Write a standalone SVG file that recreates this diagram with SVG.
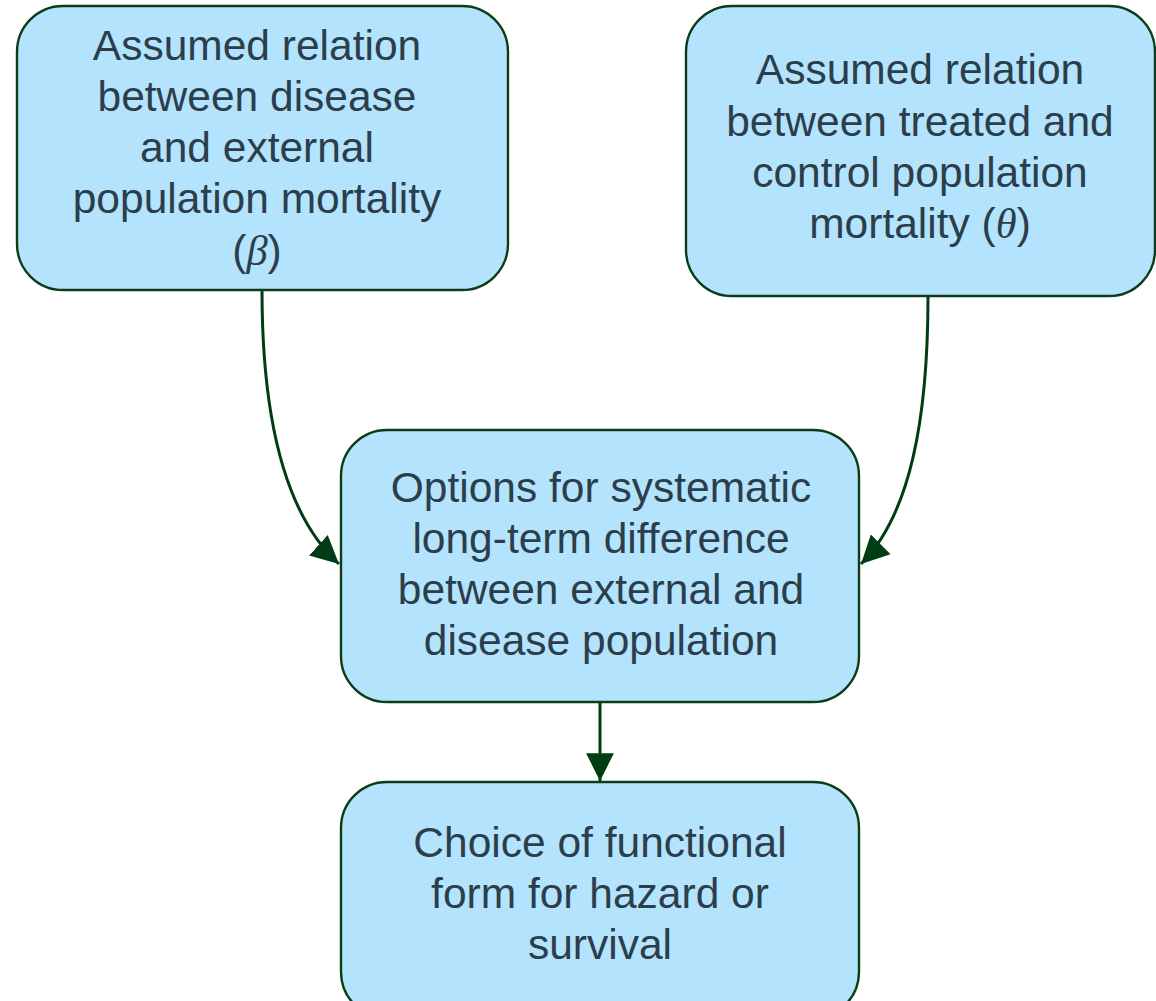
<svg xmlns="http://www.w3.org/2000/svg" width="1156" height="1001" viewBox="0 0 1156 1001">
  <style>
    .box { fill: #b3e3fd; stroke: #0b3d17; stroke-width: 2.4; }
    .lbl { font-family: "Liberation Sans", Arial, sans-serif; font-size: 42.5px; fill: #2c3e4a; text-anchor: middle; }
    .math { font-family: "Liberation Serif", "DejaVu Serif", serif; font-style: italic; }
    .edge { fill: none; stroke: #003d14; stroke-width: 3; }
  </style>
  <defs>
    <marker id="arrow" markerUnits="userSpaceOnUse" markerWidth="30" markerHeight="30" viewBox="0 0 28 28" refX="26" refY="14" orient="auto">
      <path d="M0,1 L26,14 L0,27 Z" fill="#003d14"/>
    </marker>
  </defs>
  <rect width="1156" height="1001" fill="#ffffff"/>

  <!-- connectors -->
  <g id="edges">
    <path class="edge" d="M262,290 C262,420 285,515 339,564" marker-end="url(#arrow)"/>
    <path class="edge" d="M928,296 C928,420 910,515 861,564" marker-end="url(#arrow)"/>
    <path class="edge" d="M600,702 L600,781" marker-end="url(#arrow)"/>
  </g>

  <g id="node-beta">
    <rect class="box" x="17" y="6" width="491" height="284" rx="46"/>
    <text class="lbl"><tspan x="257" y="60">Assumed relation</tspan><tspan x="257" y="111">between disease</tspan><tspan x="257" y="162">and external</tspan><tspan x="257" y="213">population mortality</tspan><tspan x="257" y="265">(<tspan class="math">β</tspan>)</tspan></text>
  </g>

  <g id="node-theta">
    <rect class="box" x="686" y="6" width="469" height="290" rx="46"/>
    <text class="lbl"><tspan x="920" y="84">Assumed relation</tspan><tspan x="920" y="136">between treated and</tspan><tspan x="920" y="187">control population</tspan><tspan x="920" y="238">mortality (<tspan class="math">θ</tspan>)</tspan></text>
  </g>

  <g id="node-options">
    <rect class="box" x="341" y="430" width="518" height="272" rx="46"/>
    <text class="lbl"><tspan x="601" y="502">Options for systematic</tspan><tspan x="601" y="553">long-term difference</tspan><tspan x="601" y="604">between external and</tspan><tspan x="601" y="655">disease population</tspan></text>
  </g>

  <g id="node-choice">
    <rect class="box" x="341" y="782" width="518" height="236" rx="46"/>
    <text class="lbl"><tspan x="600" y="857">Choice of functional</tspan><tspan x="600" y="908">form for hazard or</tspan><tspan x="600" y="959">survival</tspan></text>
  </g>
</svg>
